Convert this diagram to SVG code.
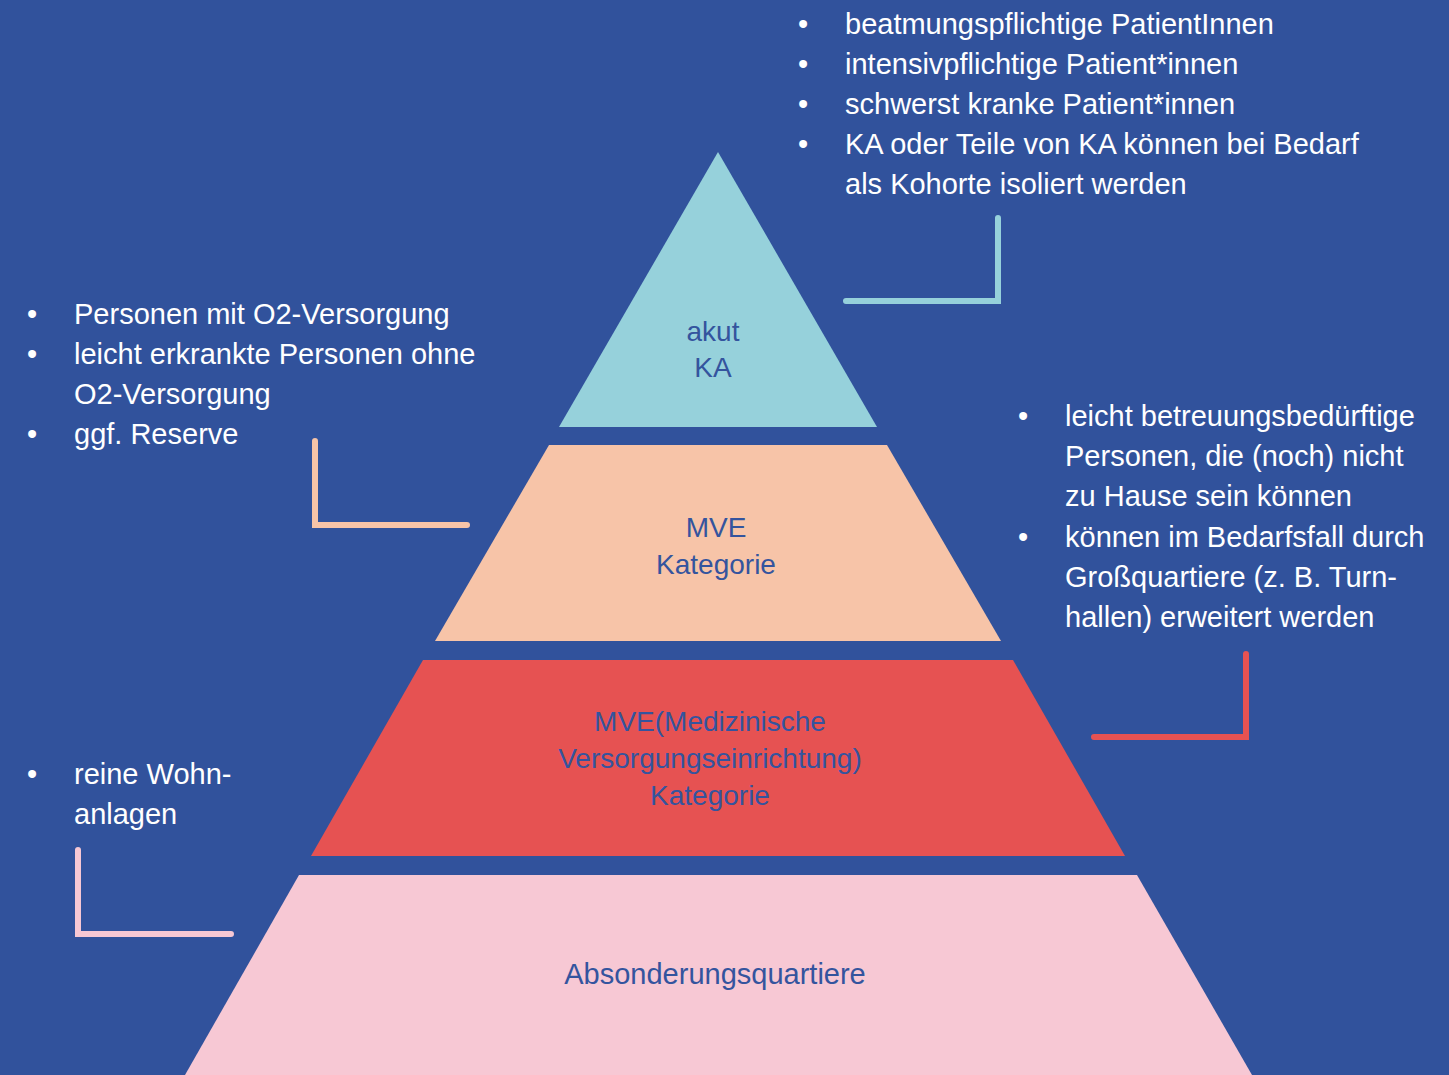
<svg xmlns="http://www.w3.org/2000/svg" width="1449" height="1075" viewBox="0 0 1449 1075">
<style>
.side{font-family:"Liberation Sans",Arial,sans-serif;font-size:29px;fill:#ffffff}
.bul{text-anchor:middle}
.lbl{font-family:"Liberation Sans",Arial,sans-serif;font-size:28px;fill:#34549e;text-anchor:middle}
.br{fill:none;stroke-width:6;stroke-linecap:round;stroke-linejoin:miter}
</style>
<rect x="0" y="0" width="1449" height="1075" fill="#31529c"/>
<g id="tier-akut">
<polygon points="718,152 877,427 559,427" fill="#96d1db"/>
<text class="lbl" x="713" y="341">akut</text>
<text class="lbl" x="713" y="377">KA</text>
</g>
<g id="tier-mve">
<polygon points="549,445 887,445 1001,641 435,641" fill="#f7c4a8"/>
<text class="lbl" x="716" y="537">MVE</text>
<text class="lbl" x="716" y="574">Kategorie</text>
</g>
<g id="tier-mve-med">
<polygon points="423,660 1013,660 1125,856 311,856" fill="#e65252"/>
<text class="lbl" x="710" y="731">MVE(Medizinische</text>
<text class="lbl" x="710" y="768">Versorgungseinrichtung)</text>
<text class="lbl" x="710" y="805">Kategorie</text>
</g>
<g id="tier-absonderung">
<polygon points="299,875 1137,875 1252,1075 185,1075" fill="#f7c8d4"/>
<text class="lbl" x="715" y="984" style="font-size:29px">Absonderungsquartiere</text>
</g>
<g id="text-top">
<text class="side bul" x="803" y="34">•</text>
<text class="side" x="845" y="34">beatmungspflichtige PatientInnen</text>
<text class="side bul" x="803" y="74">•</text>
<text class="side" x="845" y="74">intensivpflichtige Patient*innen</text>
<text class="side bul" x="803" y="114">•</text>
<text class="side" x="845" y="114">schwerst kranke Patient*innen</text>
<text class="side bul" x="803" y="154">•</text>
<text class="side" x="845" y="154">KA oder Teile von KA können bei Bedarf</text>
<text class="side" x="845" y="194">als Kohorte isoliert werden</text>
</g>
<g id="text-left">
<text class="side bul" x="32" y="324">•</text>
<text class="side" x="74" y="324">Personen mit O2-Versorgung</text>
<text class="side bul" x="32" y="364">•</text>
<text class="side" x="74" y="364">leicht erkrankte Personen ohne</text>
<text class="side" x="74" y="404">O2-Versorgung</text>
<text class="side bul" x="32" y="444">•</text>
<text class="side" x="74" y="444">ggf. Reserve</text>
</g>
<g id="text-right">
<text class="side bul" x="1023" y="426">•</text>
<text class="side" x="1065" y="426">leicht betreuungsbedürftige</text>
<text class="side" x="1065" y="466">Personen, die (noch) nicht</text>
<text class="side" x="1065" y="506">zu Hause sein können</text>
<text class="side bul" x="1023" y="547">•</text>
<text class="side" x="1065" y="547">können im Bedarfsfall durch</text>
<text class="side" x="1065" y="587">Großquartiere (z. B. Turn-</text>
<text class="side" x="1065" y="627">hallen) erweitert werden</text>
</g>
<g id="text-bottom-left">
<text class="side bul" x="32" y="784">•</text>
<text class="side" x="74" y="784">reine Wohn-</text>
<text class="side" x="74" y="824">anlagen</text>
</g>
<g id="connectors">
<path class="br" d="M846,301 H998 V218" stroke="#96d1db"/>
<path class="br" d="M315,441 V525 H467" stroke="#f7c4a8"/>
<path class="br" d="M1094,737 H1246 V654" stroke="#e65252"/>
<path class="br" d="M78,850 V934 H231" stroke="#f7c8d4"/>
</g>
</svg>
